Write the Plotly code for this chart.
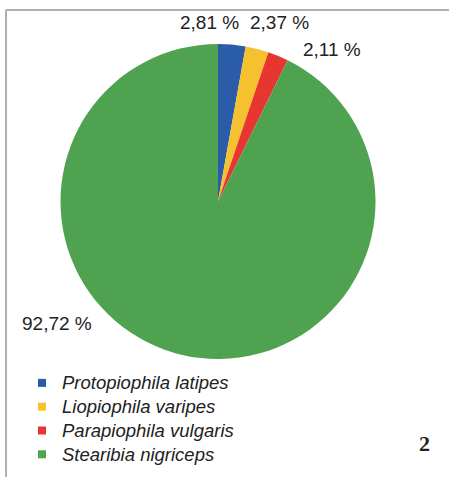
import plotly.graph_objects as go

species = ["Protopiophila latipes", "Liopiophila varipes", "Parapiophila vulgaris", "Stearibia nigriceps"]
shares = [2.81, 2.37, 2.11, 92.72]
colors = ["#2a5caa", "#f5c12e", "#e6362f", "#4fa24f"]
panel_label = "2"

W, H = 449, 477

def px(x):
    return x / W

def py(y):
    return 1 - y / H

fig = go.Figure(go.Pie(
    labels=species,
    values=shares,
    marker=dict(colors=colors, line=dict(width=0)),
    sort=False,
    direction="clockwise",
    rotation=0,
    textinfo="none",
    hoverinfo="label+percent",
    showlegend=False,
    domain=dict(x=[px(60), px(376)], y=[py(359), py(44)]),
))

for name, c in zip(species, colors):
    fig.add_trace(go.Scatter(
        x=[None], y=[None], mode="markers",
        name=f'<span style="font-size:18.5px">{name}</span>',
        marker=dict(symbol="square", size=8, color=c),
        showlegend=True,
    ))

label_pos = [(209, 22), (279, 22), (332, 49), (57, 323)]
annotations = []
for v, (x, y) in zip(shares, label_pos):
    annotations.append(dict(
        x=px(x), y=py(y), xref="paper", yref="paper",
        text=f"{v:.2f}".replace(".", ",") + " %",
        showarrow=False, xanchor="center", yanchor="middle",
        font=dict(family="Liberation Sans, Arial, sans-serif", size=19, color="#222"),
    ))
annotations.append(dict(
    x=px(424), y=py(443), xref="paper", yref="paper", text=f"<b>{panel_label}</b>",
    showarrow=False, xanchor="center", yanchor="middle",
    font=dict(family="Liberation Serif, Times New Roman, serif", size=22, color="#222"),
))

fig.update_layout(
    width=W, height=H,
    margin=dict(l=0, r=0, t=0, b=0),
    paper_bgcolor="white", plot_bgcolor="white",
    showlegend=True,
    xaxis=dict(visible=False), yaxis=dict(visible=False),
    legend=dict(
        x=px(22), y=py(366), xanchor="left", yanchor="top",
        font=dict(family="Liberation Sans, Arial, sans-serif", size=16, color="#222", style="italic"),
        itemwidth=30, tracegroupgap=0, bgcolor="rgba(0,0,0,0)",
    ),
    annotations=annotations,
    shapes=[
        dict(type="line", xref="paper", yref="paper", x0=px(6), x1=1, y0=py(10), y1=py(10),
             line=dict(color="#b0b0b0", width=2)),
        dict(type="line", xref="paper", yref="paper", x0=px(6), x1=px(6), y0=py(10), y1=0,
             line=dict(color="#b0b0b0", width=2)),
    ],
)

fig.write_html("out.html", config={"displayModeBar": False},
               post_script="document.body.style.margin='0px';")
